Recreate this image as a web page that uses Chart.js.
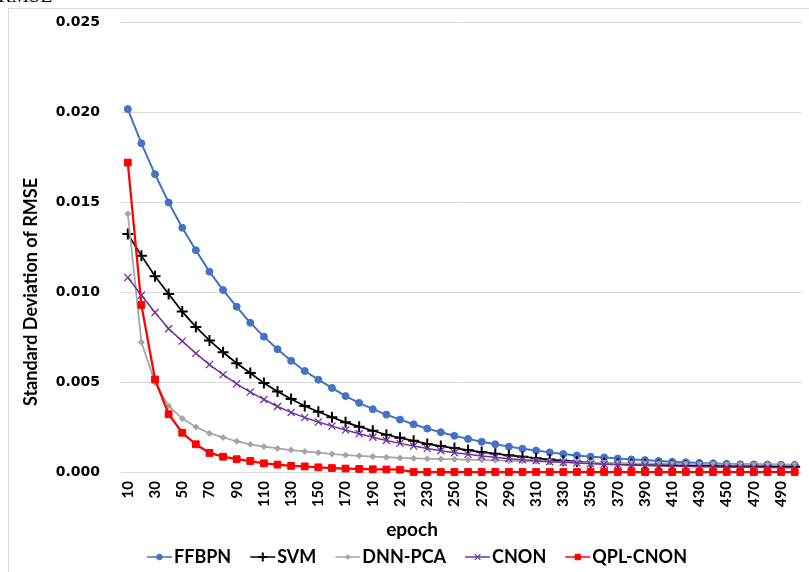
<!DOCTYPE html>
<html>
<head>
<meta charset="utf-8">
<script src="https://cdn.jsdelivr.net/npm/chart.js@4.4.0/dist/chart.umd.min.js"></script>
<style>
  body { margin: 0; background: #fff; }
  #wrap { width: 809px; height: 572px; }
</style>
</head>
<body>
<div id="wrap"><canvas id="rmse-chart" width="809" height="572"></canvas></div>
<script>
const epochs = [10, 20, 30, 40, 50, 60, 70, 80, 90, 100, 110, 120, 130, 140, 150, 160, 170, 180, 190, 200,
    210, 220, 230, 240, 250, 260, 270, 280, 290, 300, 310, 320, 330, 340, 350, 360, 370, 380, 390, 400,
    410, 420, 430, 440, 450, 460, 470, 480, 490, 500];
const xTickLabels = [10, 30, 50, 70, 90, 110, 130, 150, 170, 190, 210, 230, 250, 270, 290, 310, 330, 350,
    370, 390, 410, 430, 450, 470, 490];
const yTickValues = [0, 0.005, 0.010, 0.015, 0.020, 0.025];

const ffbpn = [0.02016, 0.01826, 0.01654, 0.01497, 0.01357, 0.01232, 0.01113, 0.01011, 0.00918, 0.00829,
    0.00752, 0.00682, 0.00618, 0.00561, 0.00513, 0.00467, 0.00422, 0.00384, 0.00349, 0.00319,
    0.00291, 0.00265, 0.00241, 0.00221, 0.00201, 0.00184, 0.00168, 0.00154, 0.00141, 0.00129,
    0.00119, 0.00109, 0.00100, 0.00092, 0.00085, 0.00081, 0.00075, 0.00070, 0.00066, 0.00061,
    0.00057, 0.00054, 0.00050, 0.00048, 0.00045, 0.00043, 0.00042, 0.00041, 0.00040, 0.00039];
const svm = [0.01322, 0.01202, 0.01087, 0.00989, 0.00891, 0.00806, 0.00731, 0.00665, 0.00604, 0.00550,
    0.00494, 0.00447, 0.00406, 0.00367, 0.00335, 0.00304, 0.00276, 0.00252, 0.00229, 0.00207,
    0.00190, 0.00173, 0.00156, 0.00144, 0.00133, 0.00122, 0.00111, 0.00102, 0.00093, 0.00085,
    0.00077, 0.00069, 0.00063, 0.00057, 0.00052, 0.00048, 0.00046, 0.00043, 0.00041, 0.00039,
    0.00037, 0.00036, 0.00034, 0.00033, 0.00032, 0.00031, 0.00031, 0.00030, 0.00029, 0.00029];
const dnnPca = [0.01434, 0.00721, 0.00497, 0.00367, 0.00297, 0.00250, 0.00215, 0.00192, 0.00171, 0.00154,
    0.00141, 0.00131, 0.00122, 0.00114, 0.00107, 0.00100, 0.00094, 0.00090, 0.00086, 0.00082,
    0.00078, 0.00076, 0.00074, 0.00072, 0.00071, 0.00068, 0.00067, 0.00065, 0.00063, 0.00061,
    0.00059, 0.00057, 0.00056, 0.00054, 0.00052, 0.00051, 0.00049, 0.00048, 0.00047, 0.00046,
    0.00046, 0.00045, 0.00044, 0.00044, 0.00043, 0.00043, 0.00042, 0.00042, 0.00041, 0.00041];
const cnon = [0.01081, 0.00982, 0.00886, 0.00796, 0.00727, 0.00659, 0.00597, 0.00541, 0.00490, 0.00444,
    0.00403, 0.00364, 0.00331, 0.00302, 0.00278, 0.00255, 0.00233, 0.00212, 0.00193, 0.00175,
    0.00159, 0.00144, 0.00130, 0.00118, 0.00107, 0.00098, 0.00089, 0.00082, 0.00074, 0.00068,
    0.00063, 0.00057, 0.00054, 0.00050, 0.00046, 0.00043, 0.00040, 0.00038, 0.00036, 0.00033,
    0.00032, 0.00030, 0.00029, 0.00028, 0.00027, 0.00026, 0.00026, 0.00025, 0.00024, 0.00024];
const qplCnon = [0.01719, 0.00928, 0.00514, 0.00321, 0.00218, 0.00154, 0.00106, 0.00085, 0.00071, 0.00061,
    0.00048, 0.00041, 0.00034, 0.00031, 0.00026, 0.00022, 0.00019, 0.00017, 0.00015, 0.00014,
    0.00013, 0, 0, 0, 0, 0, 0, 0, 0, 0,
    0, 0, 0, 0, 0, 0, 0, 0, 0, 0,
    0, 0, 0, 0, 0, 0, 0, 0, 0, 0];

// frame, cut-off caption, axis titles and the Excel-style legend
const decorations = {
    id: 'decorations',
    afterDraw(chart) {
        const ctx = chart.ctx;
        ctx.save();
        ctx.strokeStyle = '#d9d9d9';
        ctx.lineWidth = 1;
        ctx.strokeRect(8.5, 8.5, 1000, 1000);

        ctx.fillStyle = '#000';
        ctx.font = '20px "Liberation Serif"';
        ctx.textBaseline = 'alphabetic';
        ctx.fillText('RMSE', -2, 2);

        ctx.save();
        ctx.translate(31, 292);
        ctx.rotate(-Math.PI / 2);
        ctx.font = 'bold 18px Lato';
        ctx.textAlign = 'center';
        ctx.textBaseline = 'middle';
        ctx.fillText('Standard Deviation of RMSE', 0, 0);
        ctx.restore();

        ctx.font = 'bold 19px Lato';
        ctx.textAlign = 'center';
        ctx.textBaseline = 'middle';
        ctx.fillText('epoch', 412, 530);

        // legend
        ctx.font = 'bold 18px Lato';
        ctx.textAlign = 'left';
        const lineLen = 25, gap = 19, textGap = 2;
        const sets = chart.data.datasets;
        const widths = sets.map(ds => lineLen + textGap + ctx.measureText(ds.label).width);
        const total = widths.reduce((a, b) => a + b, 0) + gap * (sets.length - 1);
        let x = 417 - total / 2;
        const y = 557;
        sets.forEach((ds, i) => {
            ctx.strokeStyle = ds.borderColor;
            ctx.lineWidth = 1.5;
            ctx.beginPath();
            ctx.moveTo(x, y);
            ctx.lineTo(x + lineLen, y);
            ctx.stroke();
            ctx.fillStyle = ds.pointBackgroundColor;
            ctx.strokeStyle = ds.pointBorderColor;
            ctx.lineWidth = ds.pointBorderWidth;
            Chart.helpers.drawPoint(ctx, {
                pointStyle: ds.pointStyle,
                radius: ds.pointRadius * 0.8,
                rotation: 0,
                borderWidth: ds.pointBorderWidth
            }, x + lineLen / 2, y);
            ctx.fillStyle = '#000';
            ctx.fillText(ds.label, x + lineLen + textGap, y);
            x += widths[i] + gap;
        });
        ctx.restore();
    }
};

function series(label, data, color, style, radius, lineWidth, pointBorder, order) {
    return {
        label: label,
        data: data,
        borderColor: color,
        backgroundColor: color,
        borderWidth: lineWidth,
        pointStyle: style,
        pointRadius: radius,
        pointHoverRadius: radius,
        pointBackgroundColor: color,
        pointBorderColor: color,
        pointBorderWidth: pointBorder,
        tension: 0,
        fill: false,
        clip: false,
        order: order
    };
}

var ctx = document.getElementById('rmse-chart').getContext('2d');
var rmseChart = new Chart(ctx, {
    type: 'line',
    data: {
        labels: epochs,
        datasets: [
            series('FFBPN', ffbpn, '#4472C4', 'circle', 3.5, 2, 1, 5),
            series('SVM', svm, '#000000', 'cross', 5.5, 1.75, 2, 4),
            series('DNN-PCA', dnnPca, '#A5A5A5', 'rectRot', 3, 1.75, 1, 3),
            series('CNON', cnon, '#7030A0', 'crossRot', 5, 1.5, 1.25, 2),
            series('QPL-CNON', qplCnon, '#FF0000', 'rect', 4.8, 2.25, 1, 1)
        ]
    },
    options: {
        responsive: false,
        animation: false,
        layout: { padding: { top: 22, left: 0, right: 0, bottom: 0 } },
        plugins: {
            legend: { display: false },
            tooltip: { enabled: false }
        },
        scales: {
            x: {
                type: 'category',
                offset: true,
                // invisible tick marks keep the labels off the axis without padding the chart area
                grid: { display: true, drawOnChartArea: false, color: 'rgba(0,0,0,0)',
                        tickColor: 'rgba(0,0,0,0)', tickLength: 9 },
                border: { display: false },
                ticks: {
                    autoSkip: false,
                    minRotation: 90,
                    maxRotation: 90,
                    padding: 0,
                    color: '#000',
                    font: { family: 'Lato', weight: 'bold', size: 15 }
                },
                afterBuildTicks: function (scale) {
                    scale.ticks = scale.ticks.filter(t => xTickLabels.includes(epochs[t.value]));
                },
                afterFit: function (scale) {
                    scale.height = 100;
                    scale.paddingLeft = 0;
                    scale.paddingRight = 0;
                }
            },
            y: {
                min: 0,
                max: 0.025,
                grid: { color: '#d9d9d9', lineWidth: 1, drawTicks: true,
                        tickColor: 'rgba(0,0,0,0)', tickLength: 18 },
                border: { display: false },
                ticks: {
                    padding: 3,
                    color: '#000',
                    font: { family: 'DejaVu Sans', weight: 'bold', size: 14 },
                    callback: v => v.toFixed(3)
                },
                afterBuildTicks: function (scale) {
                    scale.ticks = yTickValues.map(v => ({ value: v }));
                },
                afterFit: function (scale) { scale.width = 121; }
            }
        }
    },
    plugins: [decorations]
});
</script>
</body>
</html>
